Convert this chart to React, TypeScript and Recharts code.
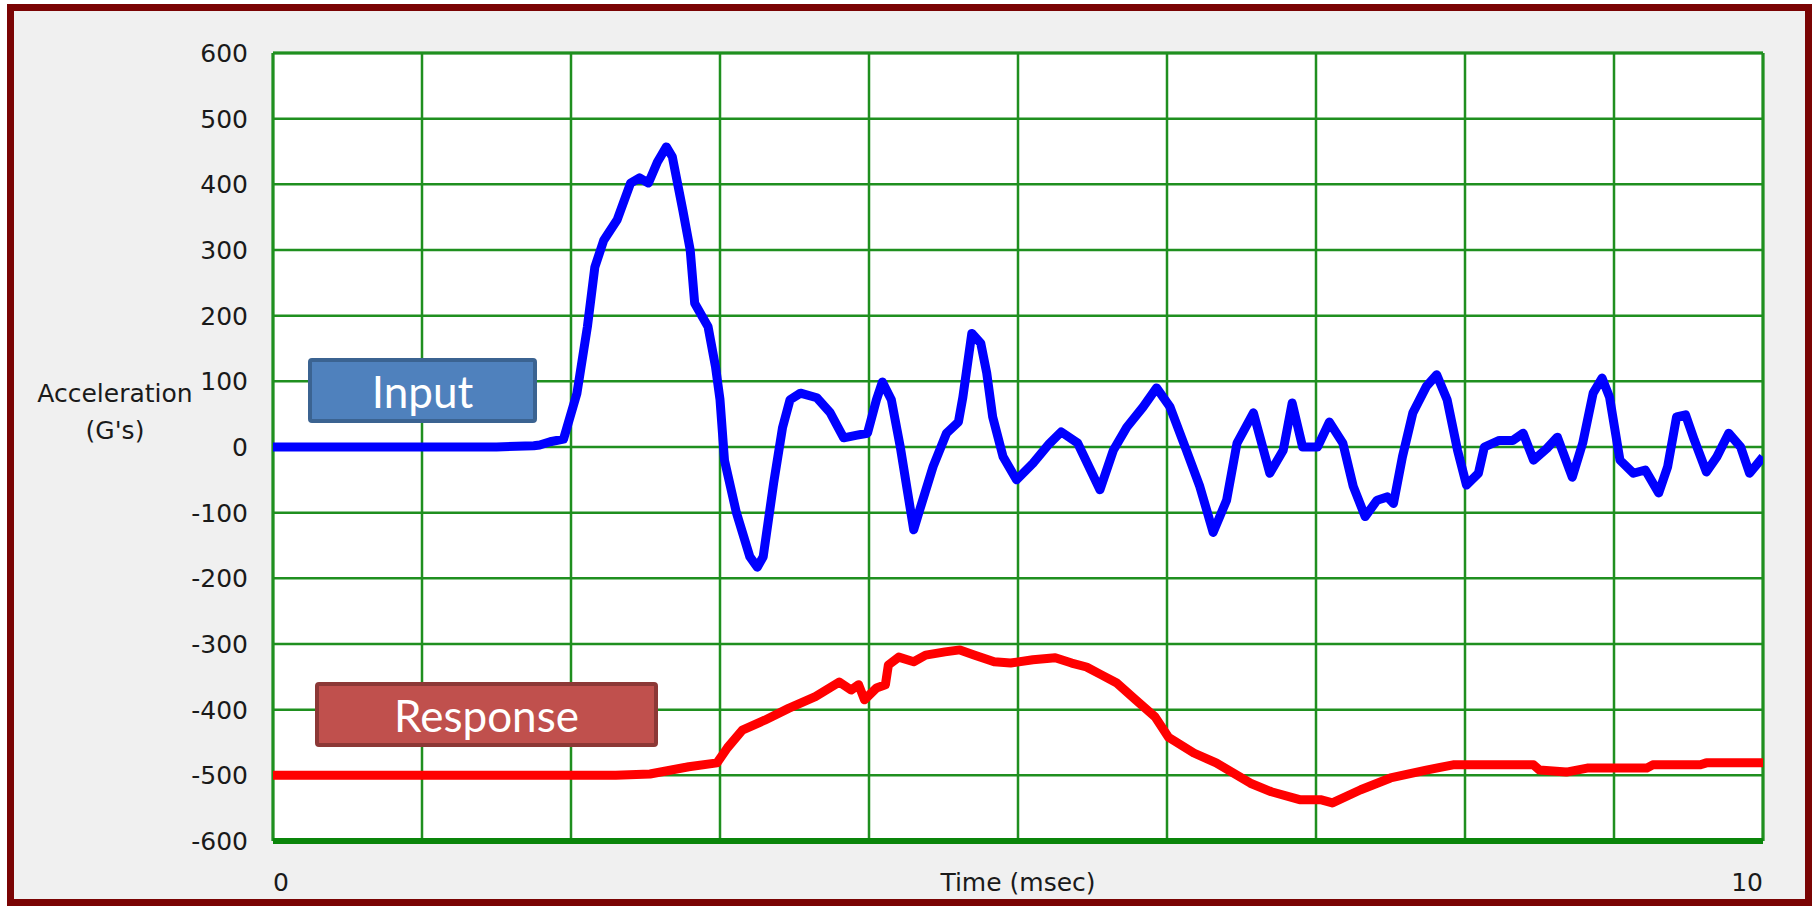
import React from 'react';
import {
  LineChart,
  Line,
  XAxis,
  YAxis,
  CartesianGrid,
  ReferenceLine,
} from 'recharts';

// Input acceleration trace (time in msec, G's)
const inputTimes = [
  0, 1.5, 1.75, 1.79, 1.86, 1.95, 2.04, 2.11, 2.16, 2.22, 2.31, 2.4, 2.46, 2.52, 2.58, 2.64, 2.68,
  2.75, 2.8, 2.83, 2.92, 2.97, 3.0, 3.03, 3.11, 3.2, 3.25, 3.29, 3.36, 3.42, 3.47, 3.54, 3.65, 3.74,
  3.83, 3.92, 3.99, 4.05, 4.09, 4.15, 4.21, 4.26, 4.3, 4.34, 4.43, 4.52, 4.6, 4.63, 4.69, 4.75, 4.79,
  4.83, 4.9, 4.99, 5.1, 5.21, 5.29, 5.4, 5.55, 5.64, 5.73, 5.84, 5.93, 6.02, 6.13, 6.22, 6.31, 6.4,
  6.47, 6.58, 6.69, 6.78, 6.84, 6.91, 7.01, 7.09, 7.18, 7.25, 7.33, 7.41, 7.48, 7.52, 7.58, 7.65,
  7.74, 7.81, 7.88, 7.95, 8.01, 8.09, 8.13, 8.23, 8.32, 8.39, 8.46, 8.55, 8.62, 8.72, 8.79, 8.86,
  8.92, 8.97, 9.04, 9.13, 9.21, 9.3, 9.36, 9.42, 9.48, 9.54, 9.62, 9.69, 9.77, 9.85, 9.91, 10,
];
const inputValues = [
  0, 0, 2, 3, 8, 12, 82, 183, 274, 315, 346, 402, 410, 402, 434, 457, 442,
  361, 300, 219, 183, 122, 72, -20, -100, -167, -183, -167, -55, 30, 72, 82, 75, 52,
  14, 18, 21, 72, 99, 72, 0, -70, -126, -96, -30, 21, 38, 76, 173, 158, 113,
  46, -15, -50, -25, 5, 23, 6, -65, -5, 30, 61, 90, 61, -5, -60, -130, -81,
  6, 52, -40, -5, 67, 0, 0, 38, 6, -60, -106, -81, -76, -86, -15, 52,
  92, 110, 72, -5, -58, -40, 0, 10, 10, 21, -20, -2, 15, -46, 6, 82,
  105, 76, -20, -40, -35, -70, -30, 46, 49, 10, -38, -15, 21, 0, -40, -15,
];

// Response acceleration trace
const responseTimes = [
  0, 2.3, 2.53, 2.79, 2.98, 3.05, 3.15, 3.3, 3.46, 3.64, 3.8, 3.88, 3.93, 3.97, 4.05, 4.11, 4.13,
  4.2, 4.3, 4.38, 4.51, 4.61, 4.71, 4.84, 4.95, 5.1, 5.25, 5.36, 5.46, 5.56, 5.66, 5.79, 5.92, 6.01,
  6.18, 6.33, 6.56, 6.7, 6.89, 7.03, 7.11, 7.3, 7.5, 7.74, 7.92, 8.23, 8.46, 8.5, 8.68, 8.82, 9.22,
  9.26, 9.58, 9.62, 10,
];
const responseValues = [
  -500, -500, -498, -487, -481, -458, -431, -416, -398, -380, -358, -370, -362, -385, -367, -362, -332,
  -320, -327, -317, -312, -309, -317, -327, -329, -324, -321, -329, -335, -347, -359, -385, -411, -442,
  -466, -481, -512, -525, -537, -537, -542, -522, -504, -492, -484, -484, -484, -492, -495, -489, -489,
  -484, -484, -481, -481,
];

const xTicks = [0, 1, 2, 3, 4, 5, 6, 7, 8, 9, 10];
const yTicks = [-600, -500, -400, -300, -200, -100, 0, 100, 200, 300, 400, 500, 600];
const yLabelLines = ['Acceleration', "(G's)"];

const inputData = inputTimes.map((t, i) => ({ t, v: inputValues[i] }));
const responseData = responseTimes.map((t, i) => ({ t, v: responseValues[i] }));

const AXIS_FONT = '"DejaVu Sans", Arial, sans-serif';
const TEXT = '#1a1a1a';
const GRID = '#1f8f1f';

const XTick = (props: any) => {
  const { x, y, payload, index } = props;
  const last = xTicks.length - 1;
  if (index !== 0 && index !== last) return null;
  return (
    <text
      x={x}
      y={y}
      dy="0.71em"
      textAnchor={index === 0 ? 'start' : 'end'}
      fill={TEXT}
      fontSize={25}
      fontFamily={AXIS_FONT}
    >
      {payload.value}
    </text>
  );
};

// two-line axis title sitting left of the tick labels
const YLabel = (props: any) => {
  const { viewBox } = props;
  const cx = viewBox.x + 115;
  const cy = viewBox.y + viewBox.height / 2 - 35;
  return (
    <g>
      {yLabelLines.map((line, i) => (
        <text
          key={line}
          x={cx}
          y={cy + (i - 0.5) * 37}
          dy="0.355em"
          textAnchor="middle"
          fill={TEXT}
          fontSize={25}
          fontFamily={AXIS_FONT}
        >
          {line}
        </text>
      ))}
    </g>
  );
};

const boxText: React.CSSProperties = {
  position: 'absolute',
  boxSizing: 'border-box',
  display: 'flex',
  alignItems: 'center',
  justifyContent: 'center',
  color: '#fff',
  fontFamily: 'Lato, "Open Sans", sans-serif',
  fontSize: 44,
  borderRadius: 4,
};

export default function App() {
  return (
    <div style={{ position: 'absolute', left: 0, top: 0, width: 1812, height: 906, background: '#fff' }}>
      <div
        style={{
          position: 'absolute',
          left: 7,
          top: 4,
          width: 1805,
          height: 902,
          boxSizing: 'border-box',
          border: '7px solid #7a0404',
          background: '#f0f0f0',
        }}
      />
      <div style={{ position: 'absolute', left: 0, top: 0 }}>
        <LineChart width={1812} height={906} margin={{ top: 53, right: 49, bottom: 25, left: 0 }}>
          <CartesianGrid
            stroke={GRID}
            strokeWidth={2.5}
            fill="#ffffff"
            verticalValues={xTicks}
            horizontalValues={yTicks}
          />
          <XAxis
            dataKey="t"
            type="number"
            domain={[0, 10]}
            ticks={xTicks}
            allowDataOverflow
            axisLine={false}
            tickLine={false}
            tickSize={0}
            tickMargin={32}
            height={40}
            tick={<XTick />}
            interval={0}
            label={{
              value: 'Time (msec)',
              position: 'insideTop',
              offset: 32,
              fill: TEXT,
              fontSize: 25,
              fontFamily: AXIS_FONT,
            }}
          />
          <YAxis
            type="number"
            domain={[-600, 600]}
            ticks={yTicks}
            interval={0}
            width={273}
            axisLine={false}
            tickLine={false}
            tickSize={0}
            tickMargin={25}
            tick={{ fill: TEXT, fontSize: 25, fontFamily: AXIS_FONT }}
            label={<YLabel />}
          />
          <ReferenceLine x={0} stroke={GRID} strokeWidth={3} />
          <ReferenceLine x={10} stroke={GRID} strokeWidth={3} />
          <ReferenceLine y={600} stroke={GRID} strokeWidth={3} />
          <ReferenceLine y={-600} stroke="#0a850a" strokeWidth={6} />
          <Line
            data={inputData}
            dataKey="v"
            type="linear"
            stroke="#0000ff"
            strokeWidth={9}
            strokeLinejoin="round"
            dot={false}
            isAnimationActive={false}
          />
          <Line
            data={responseData}
            dataKey="v"
            type="linear"
            stroke="#ff0000"
            strokeWidth={9}
            strokeLinejoin="round"
            dot={false}
            isAnimationActive={false}
          />
        </LineChart>
      </div>
      <div
        style={{
          ...boxText,
          left: 308,
          top: 358,
          width: 229,
          height: 65,
          background: '#4f81bd',
          border: '4px solid #3b6391',
        }}
      >
        Input
      </div>
      <div
        style={{
          ...boxText,
          left: 315,
          top: 682,
          width: 343,
          height: 65,
          background: '#c0504d',
          border: '4px solid #8c3836',
        }}
      >
        Response
      </div>
    </div>
  );
}
